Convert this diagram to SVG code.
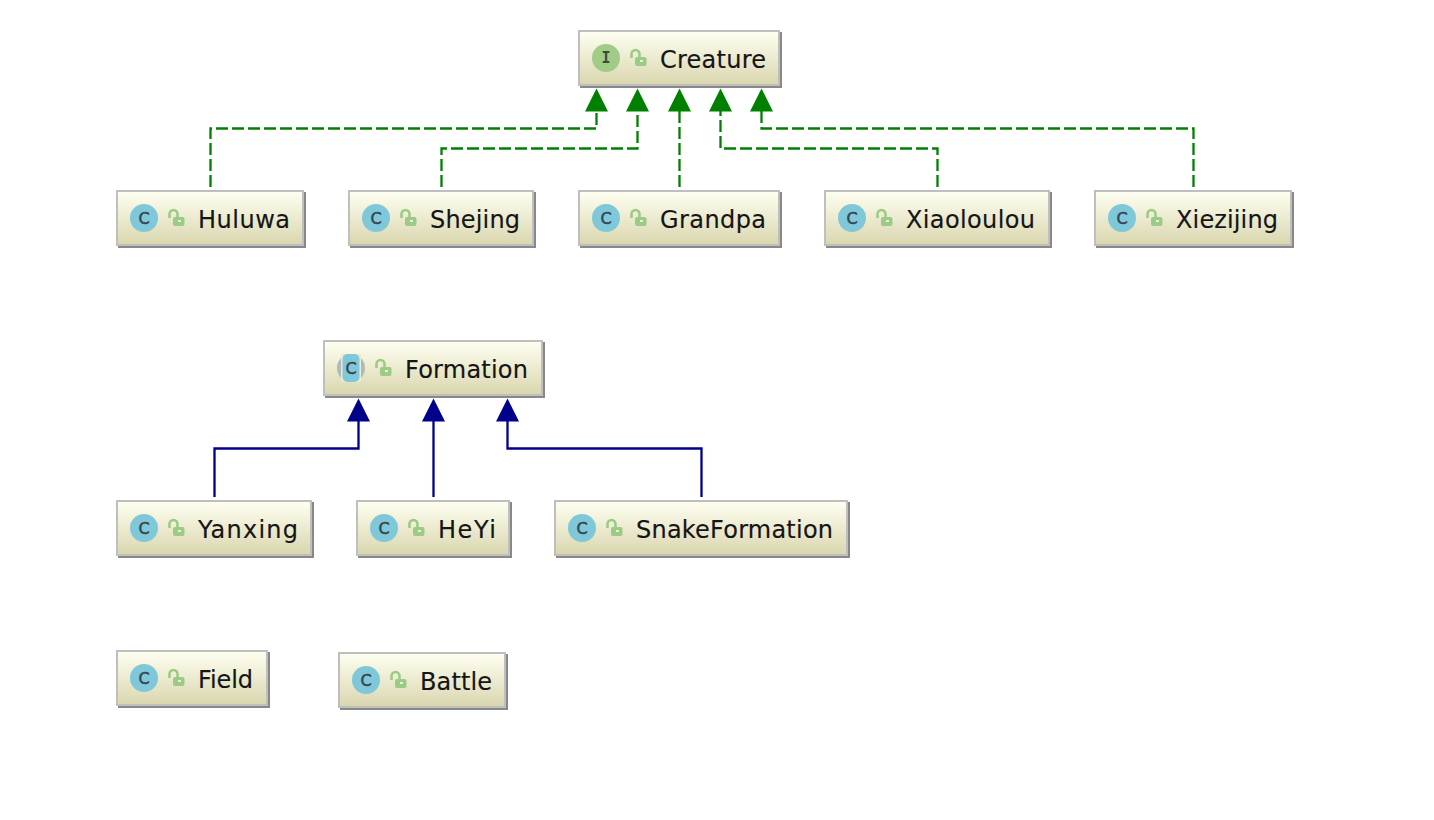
<svg xmlns="http://www.w3.org/2000/svg" width="1434" height="820" viewBox="0 0 1434 820">
<style>
.box{fill:url(#g);stroke:#bfbfbf;stroke-width:2}
.sh{fill:#888}
.t{font-family:"DejaVu Sans",sans-serif;font-size:24px;fill:#151515;stroke:#151515;stroke-width:.15}
.ic{font-family:"DejaVu Sans",sans-serif;font-size:16px;fill:#36454e;stroke:#36454e;stroke-width:.5;text-anchor:middle}
.ii{font-family:"DejaVu Sans Mono",monospace;font-size:15px;fill:#3d4a3a;text-anchor:middle;font-weight:bold}
.d{fill:none;stroke:#008000;stroke-width:2.300;stroke-dasharray:12 4}
.s{fill:none;stroke:#00008b;stroke-width:2.300}
</style>
<defs>
<linearGradient id="g" x1="0" y1="0" x2="0" y2="1"><stop offset="0" stop-color="#fffff2"/><stop offset="1" stop-color="#d9d6ae"/></linearGradient>
<g id="lock"><path d="M-6.500 0V-4a4 4 0 0 1 8 0V-1" fill="none" stroke="#9ccb85" stroke-width="2.600"/><rect x="-3" y="-1" width="11.500" height="9" rx="2" fill="#9ccb85"/><rect x="2" y="2" width="3" height="2" fill="#e8f3dc"/></g>
<g id="cc"><circle r="14" fill="#7fc8da"/><text class="ic" y="5.800">C</text></g>
<g id="ci"><circle r="14" fill="#a0cc88"/><text class="ii" y="5">I</text></g>
<g id="ca"><circle r="14" fill="#b4b8b8"/><rect x="-10" y="-14" width="20" height="28" fill="#ecebd0"/><rect x="-8.500" y="-14" width="17" height="28" rx="5" fill="#7fc8da"/><text class="ic" y="5.800">C</text></g>
</defs>
<g id="connectors">
<path class="d" d="M210.500 187V128.500H596.500V108"/>
<path class="d" d="M441.500 187V148.500H637.500V108"/>
<path class="d" d="M679.500 187V108"/>
<path class="d" d="M937.500 187V148.500H720.500V108"/>
<path class="d" d="M1193.500 187V128.500H761.500V108"/>
<path class="s" d="M214.500 497V448.500H358.500V418"/>
<path class="s" d="M433.500 497V418"/>
<path class="s" d="M701.500 497V448.500H507.500V418"/>
<g fill="#008000"><path d="M596.500 88.500l11.500 23h-23z"/><path d="M637.500 88.500l11.500 23h-23z"/><path d="M679.500 88.500l11.500 23h-23z"/><path d="M720.500 88.500l11.500 23h-23z"/><path d="M761.500 88.500l11.500 23h-23z"/></g>
<g fill="#00008b"><path d="M358.500 398.500l11.500 23h-23z"/><path d="M433.500 398.500l11.500 23h-23z"/><path d="M507.500 398.500l11.500 23h-23z"/></g>
</g>
<g id="Creature"><rect class="sh" x="580" y="32" width="202" height="56"/><rect class="box" x="579" y="31" width="200" height="54"/><use href="#ci" x="606" y="58"/><use href="#lock" x="638" y="58"/><text class="t" x="660" y="68" textLength="106">Creature</text></g>
<g id="Huluwa"><rect class="sh" x="118" y="192" width="188" height="56"/><rect class="box" x="117" y="191" width="186" height="54"/><use href="#cc" x="144" y="218"/><use href="#lock" x="176" y="218"/><text class="t" x="198" y="228" textLength="92">Huluwa</text></g>
<g id="Shejing"><rect class="sh" x="350" y="192" width="186" height="56"/><rect class="box" x="349" y="191" width="184" height="54"/><use href="#cc" x="376" y="218"/><use href="#lock" x="408" y="218"/><text class="t" x="430" y="228" textLength="90">Shejing</text></g>
<g id="Grandpa"><rect class="sh" x="580" y="192" width="202" height="56"/><rect class="box" x="579" y="191" width="200" height="54"/><use href="#cc" x="606" y="218"/><use href="#lock" x="638" y="218"/><text class="t" x="660" y="228" textLength="106">Grandpa</text></g>
<g id="Xiaoloulou"><rect class="sh" x="826" y="192" width="226" height="56"/><rect class="box" x="825" y="191" width="224" height="54"/><use href="#cc" x="852" y="218"/><use href="#lock" x="884" y="218"/><text class="t" x="906" y="228" textLength="129">Xiaoloulou</text></g>
<g id="Xiezijing"><rect class="sh" x="1096" y="192" width="198" height="56"/><rect class="box" x="1095" y="191" width="196" height="54"/><use href="#cc" x="1122" y="218"/><use href="#lock" x="1154" y="218"/><text class="t" x="1176" y="228" textLength="102">Xiezijing</text></g>
<g id="Formation"><rect class="sh" x="325" y="342" width="220" height="56"/><rect class="box" x="324" y="341" width="218" height="54"/><use href="#ca" x="351" y="368"/><use href="#lock" x="383" y="368"/><text class="t" x="405" y="378" textLength="123">Formation</text></g>
<g id="Yanxing"><rect class="sh" x="118" y="502" width="196" height="56"/><rect class="box" x="117" y="501" width="194" height="54"/><use href="#cc" x="144" y="528"/><use href="#lock" x="176" y="528"/><text class="t" x="198" y="538" textLength="100">Yanxing</text></g>
<g id="HeYi"><rect class="sh" x="358" y="502" width="154" height="56"/><rect class="box" x="357" y="501" width="152" height="54"/><use href="#cc" x="384" y="528"/><use href="#lock" x="416" y="528"/><text class="t" x="438" y="538" textLength="58">HeYi</text></g>
<g id="SnakeFormation"><rect class="sh" x="556" y="502" width="294" height="56"/><rect class="box" x="555" y="501" width="292" height="54"/><use href="#cc" x="582" y="528"/><use href="#lock" x="614" y="528"/><text class="t" x="636" y="538" textLength="197">SnakeFormation</text></g>
<g id="Field"><rect class="sh" x="118" y="652" width="152" height="56"/><rect class="box" x="117" y="651" width="150" height="54"/><use href="#cc" x="144" y="678"/><use href="#lock" x="176" y="678"/><text class="t" x="198" y="688" textLength="55">Field</text></g>
<g id="Battle"><rect class="sh" x="340" y="654" width="168" height="56"/><rect class="box" x="339" y="653" width="166" height="54"/><use href="#cc" x="366" y="680"/><use href="#lock" x="398" y="680"/><text class="t" x="420" y="690" textLength="72">Battle</text></g>
</svg>
